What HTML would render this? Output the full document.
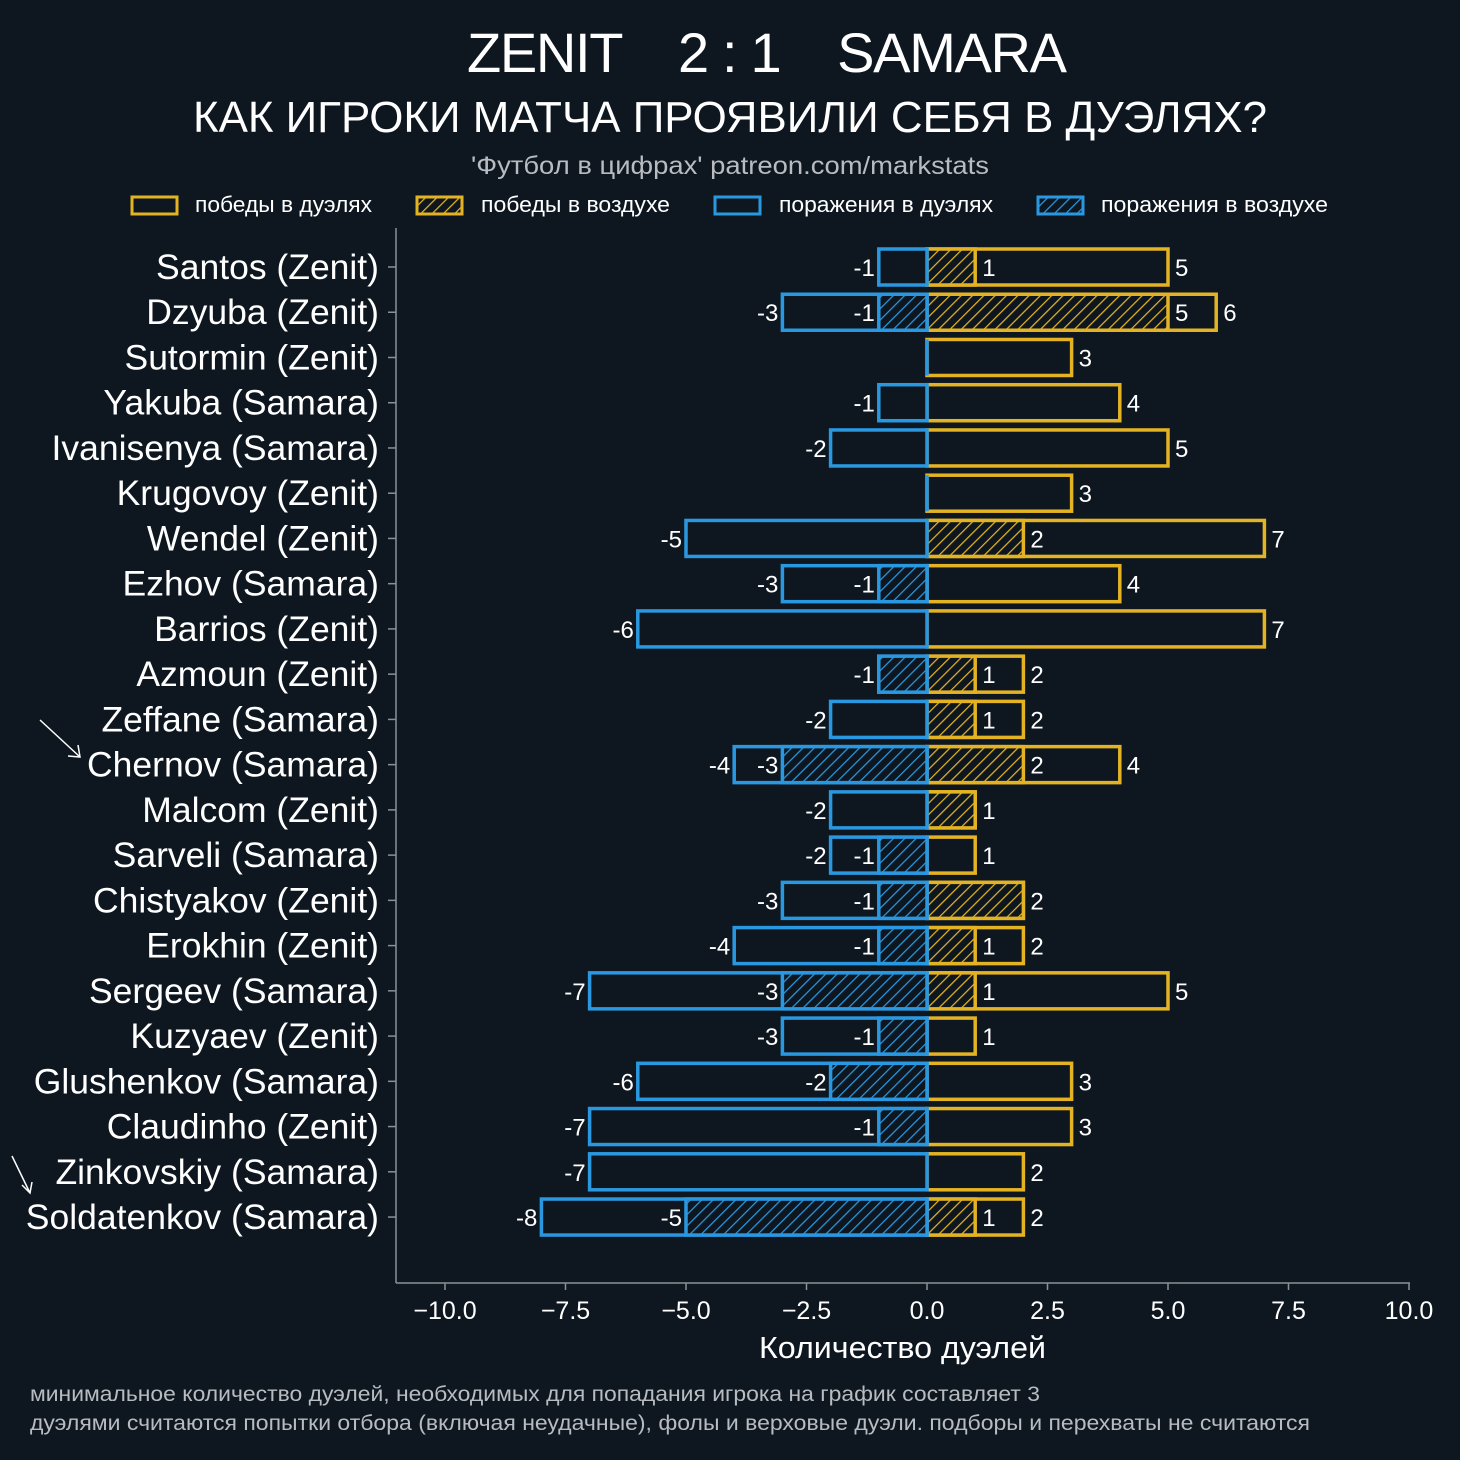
<!DOCTYPE html>
<html><head><meta charset="utf-8"><style>
html,body{margin:0;padding:0;background:#0e1720;}
svg{display:block;font-family:"Liberation Sans","DejaVu Sans",sans-serif;}
</style></head><body>
<svg id="chart" width="1460" height="1460" viewBox="0 0 1460 1460" xmlns="http://www.w3.org/2000/svg">
<defs>
<pattern id="hy" patternUnits="userSpaceOnUse" width="8" height="8" patternTransform="rotate(45)"><rect width="8" height="8" fill="#0e1720"/><line x1="0" y1="0" x2="0" y2="8" stroke="#e3b324" stroke-width="2.5"/></pattern>
<pattern id="hb" patternUnits="userSpaceOnUse" width="8" height="8" patternTransform="rotate(45)"><rect width="8" height="8" fill="#0e1720"/><line x1="0" y1="0" x2="0" y2="8" stroke="#2a98e0" stroke-width="2.5"/></pattern>
</defs>
<rect width="1460" height="1460" fill="#0e1720"/>
<text x="467" y="72" font-size="56" fill="#fff" textLength="600" lengthAdjust="spacing" xml:space="preserve">ZENIT    2 : 1    SAMARA</text>
<text x="193" y="132" font-size="44" fill="#fff" textLength="1074" lengthAdjust="spacingAndGlyphs">КАК ИГРОКИ МАТЧА ПРОЯВИЛИ СЕБЯ В ДУЭЛЯХ?</text>
<text x="471" y="174" font-size="25" fill="#b8bcc0" textLength="518" lengthAdjust="spacingAndGlyphs">'Футбол в цифрах' patreon.com/markstats</text>
<g font-size="22" fill="#fff">
<rect x="132" y="197" width="45" height="17" fill="#0e1720" stroke="#e3b324" stroke-width="3"/>
<text x="195" y="212" textLength="177" lengthAdjust="spacingAndGlyphs">победы в дуэлях</text>
<rect x="417" y="197" width="45" height="17" fill="url(#hy)" stroke="#e3b324" stroke-width="3"/>
<text x="481" y="212" textLength="189" lengthAdjust="spacingAndGlyphs">победы в воздухе</text>
<rect x="715" y="197" width="45" height="17" fill="#0e1720" stroke="#2a98e0" stroke-width="3"/>
<text x="779" y="212" textLength="214" lengthAdjust="spacingAndGlyphs">поражения в дуэлях</text>
<rect x="1038" y="197" width="45" height="17" fill="url(#hb)" stroke="#2a98e0" stroke-width="3"/>
<text x="1101" y="212" textLength="227" lengthAdjust="spacingAndGlyphs">поражения в воздухе</text>
</g>
<g id="plot"></g>
<text x="759" y="1358" font-size="31" fill="#fff" textLength="287" lengthAdjust="spacingAndGlyphs">Количество дуэлей</text>
<text x="30" y="1401" font-size="21" fill="#b8bcc0" textLength="1010" lengthAdjust="spacingAndGlyphs">минимальное количество дуэлей, необходимых для попадания игрока на график составляет 3</text>
<text x="30" y="1430" font-size="21" fill="#b8bcc0" textLength="1280" lengthAdjust="spacingAndGlyphs">дуэлями считаются попытки отбора (включая неудачные), фолы и верховые дуэли. подборы и перехваты не считаются</text>
<g stroke="#fff" stroke-width="1.5" fill="none"><line x1="40" y1="720" x2="80" y2="757"/><polyline points="68,756 80,757 78,745"/></g>
<g stroke="#fff" stroke-width="1.5" fill="none"><line x1="12" y1="1156" x2="30" y2="1193"/><polyline points="22,1185 30,1193 32,1182"/></g>
</svg>
<script>
const players=["Santos (Zenit)","Dzyuba (Zenit)","Sutormin (Zenit)","Yakuba (Samara)","Ivanisenya (Samara)","Krugovoy (Zenit)","Wendel (Zenit)","Ezhov (Samara)","Barrios (Zenit)","Azmoun (Zenit)","Zeffane (Samara)","Chernov (Samara)","Malcom (Zenit)","Sarveli (Samara)","Chistyakov (Zenit)","Erokhin (Zenit)","Sergeev (Samara)","Kuzyaev (Zenit)","Glushenkov (Samara)","Claudinho (Zenit)","Zinkovskiy (Samara)","Soldatenkov (Samara)"];
const wins=[5,6,3,4,5,3,7,4,7,2,2,4,1,1,2,2,5,1,3,3,2,2];
const aerialWins=[1,5,0,0,0,0,2,0,0,1,1,2,1,0,2,1,1,0,0,0,0,1];
const losses=[-1,-3,0,-1,-2,0,-5,-3,-6,-1,-2,-4,-2,-2,-3,-4,-7,-3,-6,-7,-7,-8];
const aerialLosses=[0,-1,0,0,0,0,0,-1,0,-1,0,-3,0,-1,-1,-1,-3,-1,-2,-1,0,-5];
const xTicks=[-10,-7.5,-5,-2.5,0,2.5,5,7.5,10];
const xTickLabels=["−10.0","−7.5","−5.0","−2.5","0.0","2.5","5.0","7.5","10.0"];

const NS="http://www.w3.org/2000/svg";
const g=document.getElementById('plot');
const X=v=>927+v*48.2;
const Y=i=>267+i*45.24;
const BH=36, Y_COL="#e3b324", B_COL="#2a98e0";
function mk(tag,a,parent){const e=document.createElementNS(NS,tag);for(const k in a)e.setAttribute(k,a[k]);(parent||g).appendChild(e);return e;}
function txt(x,y,s,anchor,size,name){const t=mk('text',{x:x,y:y,'font-size':size,fill:'#fff','text-anchor':anchor});t.textContent=s;


return t;}
const sp=mk('line',{x1:396,y1:228,x2:396,y2:1283,stroke:'#8a9096','stroke-width':1.5});


const sb=mk('line',{x1:396,y1:1283,x2:1410,y2:1283,stroke:'#8a9096','stroke-width':1.5});


xTicks.forEach((v,k)=>{
 const l=mk('line',{x1:X(v),y1:1283,x2:X(v),y2:1290,stroke:'#8a9096','stroke-width':1.5});
 
 
 txt(X(v),1319,xTickLabels[k],'middle',25,'x-tick-label');
});
function bar(x0,x1,y,fill,col,name){
 const r=mk('rect',{x:Math.min(x0,x1),y:y-BH/2,width:Math.abs(x1-x0),height:BH,fill:fill,stroke:col,'stroke-width':3.5});
 
 
}
players.forEach((p,i)=>{
 const y=Y(i);
 const tk=mk('line',{x1:388,y1:y,x2:396,y2:y,stroke:'#8a9096','stroke-width':1.5});
 
 
 txt(379,y+12,p,'end',35.5,'player-label');
 if(wins[i]>0){bar(X(0),X(wins[i]),y,'#0e1720',Y_COL,'win-bar');}
 if(aerialWins[i]>0){bar(X(0),X(aerialWins[i]),y,'url(#hy)',Y_COL,'aerial-win-bar');}
 if(losses[i]<0){bar(X(losses[i]),X(0),y,'#0e1720',B_COL,'loss-bar');}
 else{const z=mk('line',{x1:X(0),y1:y-BH/2,x2:X(0),y2:y+BH/2,stroke:B_COL,'stroke-width':3.5});
  
  }
 if(aerialLosses[i]<0){bar(X(aerialLosses[i]),X(0),y,'url(#hb)',B_COL,'aerial-loss-bar');}
 if(wins[i]>0) txt(X(wins[i])+7,y+9,String(wins[i]),'start',24,'win-value');
 if(aerialWins[i]>0&&aerialWins[i]!==wins[i]) txt(X(aerialWins[i])+7,y+9,String(aerialWins[i]),'start',24,'aerial-win-value');
 if(losses[i]<0) txt(X(losses[i])-4,y+9,String(losses[i]),'end',24,'loss-value');
 if(aerialLosses[i]<0&&aerialLosses[i]!==losses[i]) txt(X(aerialLosses[i])-4,y+9,String(aerialLosses[i]),'end',24,'aerial-loss-value');
});
</script>
</body></html>
